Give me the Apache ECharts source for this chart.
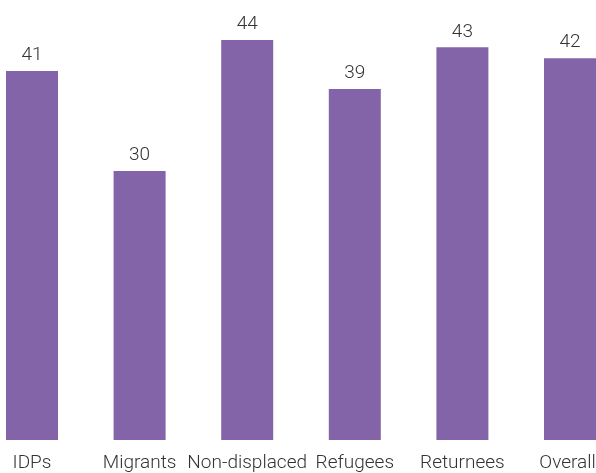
<!DOCTYPE html>
<html>
<head>
<meta charset="utf-8">
<script src="https://cdn.jsdelivr.net/npm/echarts@6/dist/echarts.min.js"></script>
<style>html,body{margin:0;padding:0;background:#fff;}#c{width:596px;height:473px;}</style>
</head>
<body>
<div id="c"></div>
<script>
const categories = ['IDPs', 'Migrants', 'Non-displaced', 'Refugees', 'Returnees', 'Overall'];
const values = [40.6, 29.6, 44.0, 38.6, 43.2, 42.0];

const labelFont = {fontFamily: 'Roboto', fontWeight: 300, fontSize: 19, color: '#333333'};

const chart = echarts.init(document.getElementById('c'), null, {renderer: 'canvas'});
chart.setOption({
  animation: false,
  grid: {left: -21.8, right: -27.8, top: 40, bottom: 33, containLabel: false, outerBoundsMode: 'none'},
  xAxis: {
    type: 'category',
    data: categories,
    axisLine: {show: false},
    axisTick: {show: false},
    axisLabel: Object.assign({
      interval: 0,
      margin: 14,
      formatter: (v, i) => i === categories.length - 1 ? '{r|' + v + '}' : v,
      rich: {r: Object.assign({padding: [0, 5, 0, 0]}, labelFont)}
    }, labelFont)
  },
  yAxis: {
    type: 'value',
    min: 0,
    max: 44,
    show: false,
    splitLine: {show: false}
  },
  series: [{
    type: 'bar',
    data: values,
    barWidth: 52,
    itemStyle: {color: '#8464A9'},
    label: Object.assign({
      show: true,
      position: 'top',
      distance: 6,
      formatter: p => Math.round(p.value)
    }, labelFont)
  }]
});
</script>
</body>
</html>
